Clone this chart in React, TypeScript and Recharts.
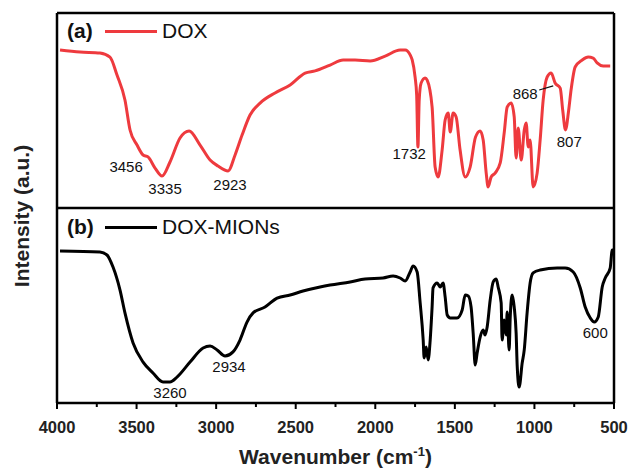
import React from 'react';
import { LineChart, Line, XAxis, YAxis, ReferenceLine, ReferenceDot } from 'recharts';

// DOX spectrum (panel a), intensity in panel units 0-100
const doxWavenumber = [
  3981, 3855, 3730, 3667, 3623, 3573, 3541, 3497, 3459, 3428, 3384, 3340, 3290, 3227, 3170, 3101,
  3038, 2988, 2925, 2881, 2837, 2787, 2724, 2630, 2535, 2441, 2378, 2284, 2202, 2127, 2032, 1938,
  1844, 1812, 1781, 1768, 1750, 1740, 1732, 1724, 1712, 1687, 1674, 1643, 1624, 1605, 1580, 1561,
  1542, 1529, 1511, 1492, 1467, 1435, 1404, 1370, 1341, 1322, 1303, 1291, 1272, 1247, 1215, 1190,
  1171, 1146, 1127, 1115, 1102, 1083, 1064, 1052, 1039, 1027, 1008, 983, 964, 945, 920, 895,
  870, 838, 822, 805, 785, 769, 744, 700, 662, 631, 606, 568, 524,
];
const doxIntensity = [
  81.0, 80.0, 79.5, 77.4, 68.2, 55.4, 40.0, 32.3, 27.2, 26.2, 20.5, 16.4, 23.6, 35.9, 39.5, 32.3,
  24.6, 21.5, 19.0, 27.2, 37.4, 47.7, 53.8, 59.0, 63.1, 69.2, 70.3, 73.3, 75.9, 75.9, 75.4, 77.9,
  81.0, 81.0, 78.5, 75.9, 67.2, 57.9, 31.3, 55.4, 64.1, 66.7, 65.6, 51.8, 21.0, 15.9, 29.7, 45.1,
  48.7, 39.0, 48.7, 46.7, 29.7, 15.9, 21.0, 36.4, 39.5, 34.9, 17.9, 10.8, 15.9, 17.9, 23.1, 38.5,
  51.8, 53.8, 46.7, 25.6, 41.0, 24.6, 40.0, 43.6, 31.3, 34.9, 10.8, 17.9, 34.9, 55.4, 67.2, 69.2,
  64.1, 61.5, 50.0, 40.0, 50.0, 61.0, 72.3, 75.9, 77.4, 76.9, 74.4, 72.8, 72.8,
];

// DOX-MIONs spectrum (panel b)
const mionsWavenumber = [
  3981, 3730, 3686, 3648, 3604, 3573, 3522, 3459, 3397, 3334, 3290, 3246, 3164, 3082, 3038, 2994,
  2944, 2894, 2850, 2806, 2768, 2693, 2617, 2535, 2454, 2347, 2284, 2158, 2064, 1951, 1888, 1844,
  1812, 1781, 1762, 1737, 1718, 1699, 1693, 1680, 1668, 1655, 1643, 1637, 1611, 1592, 1574, 1561,
  1548, 1529, 1486, 1454, 1435, 1416, 1398, 1385, 1372, 1360, 1341, 1322, 1310, 1297, 1278, 1259,
  1240, 1228, 1209, 1203, 1190, 1178, 1171, 1159, 1152, 1140, 1127, 1115, 1108, 1096, 1077, 1064,
  1046, 1027, 1008, 964, 857, 807, 756, 712, 681, 649, 624, 599, 574, 555, 524, 511, 505,
];
const mionsIntensity = [
  77.9, 77.4, 75.9, 69.7, 57.9, 46.2, 30.8, 21.0, 15.4, 10.8, 10.8, 13.3, 21.0, 28.2, 29.2, 27.2,
  24.1, 26.2, 32.3, 41.5, 46.2, 49.2, 53.8, 55.4, 57.4, 59.5, 60.5, 62.1, 63.6, 64.1, 65.1, 64.1,
  62.6, 67.2, 70.3, 67.2, 51.3, 32.3, 23.1, 28.7, 22.1, 32.3, 49.2, 59.0, 61.5, 59.5, 61.5, 54.4,
  45.1, 43.6, 43.6, 47.7, 55.4, 54.9, 49.2, 35.9, 19.5, 25.6, 33.8, 37.4, 34.9, 39.0, 52.8, 62.1,
  63.6, 59.5, 51.3, 32.3, 42.6, 34.9, 46.7, 27.2, 44.1, 55.4, 49.2, 35.9, 18.5, 8.2, 20.5, 27.2,
  46.2, 61.5, 66.7, 68.2, 69.2, 69.2, 67.2, 59.0, 49.2, 43.6, 41.5, 44.1, 59.5, 64.1, 69.2, 78.5, 78.5,
];

const xTicks = [4000, 3750, 3500, 3250, 3000, 2750, 2500, 2250, 2000, 1750, 1500, 1250, 1000, 750, 500];

// peak labels: text, wavenumber, intensity (panel units)
const doxPeaks = [
  { text: '3456', x: 3566, y: 21 },
  { text: '3335', x: 3321, y: 10 },
  { text: '2923', x: 2913, y: 12 },
  { text: '1732', x: 1787, y: 27.7 },
  { text: '868', x: 1058, y: 58.5 },
  { text: '807', x: 781, y: 33.8 },
];
const mionsPeaks = [
  { text: '3260', x: 3290, y: 5.1 },
  { text: '2934', x: 2919, y: 18.5 },
  { text: '600', x: 618, y: 35.9 },
];

const PANEL = 100;
const doxData = doxWavenumber.map((w, i) => ({ w, v: doxIntensity[i] + PANEL }));
const mionsData = mionsWavenumber.map((w, i) => ({ w, v: mionsIntensity[i] }));

const FONT = '"Liberation Sans", Arial, sans-serif';
const RED = '#ee3a3e';

const XTick = (props: any) => {
  const { x, y, payload } = props;
  const major = payload.value % 500 === 0;
  return (
    <g>
      <line x1={x} x2={x} y1={y} y2={y + (major ? 6 : 4)} stroke="#000" strokeWidth={2} />
      {major && (
        <text x={x} y={y + 30} textAnchor="middle" fontSize={16.5} fontWeight="bold" fill="#222" fontFamily={FONT}>
          {payload.value}
        </text>
      )}
    </g>
  );
};

const legendRow = (tag: string, name: string, color: string, top: number) => (
  <div style={{ position: 'absolute', left: 67, top, display: 'flex', alignItems: 'center', fontFamily: FONT, fontSize: 21, color: '#111', lineHeight: '24px' }}>
    <span style={{ fontWeight: 'bold', width: 38 }}>{tag}</span>
    <span style={{ display: 'inline-block', width: 52, height: 3, background: color, marginRight: 5 }} />
    <span>{name}</span>
  </div>
);

export default function App() {
  return (
    <div style={{ position: 'absolute', left: 0, top: 0, width: 629, height: 473, background: '#fff' }}>
      <LineChart width={629} height={473} margin={{ top: 13, right: 15, left: 57, bottom: 0 }}>
        <XAxis
          type="number"
          dataKey="w"
          domain={[500, 4000]}
          reversed
          ticks={xTicks}
          interval={0}
          height={70}
          tickSize={0}
          tickMargin={0}
          tickLine={false}
          axisLine={{ stroke: '#000', strokeWidth: 2.5 }}
          tick={<XTick />}
          allowDataOverflow
        />
        <YAxis type="number" domain={[0, 200]} hide allowDataOverflow />
        <ReferenceLine x={4000} stroke="#000" strokeWidth={2.5} />
        <ReferenceLine x={500} stroke="#000" strokeWidth={2.5} />
        <ReferenceLine y={200} stroke="#000" strokeWidth={2.5} />
        <ReferenceLine y={100} stroke="#000" strokeWidth={2.5} />
        <Line data={doxData} dataKey="v" type="monotone" stroke={RED} strokeWidth={3} dot={false} isAnimationActive={false} />
        <Line data={mionsData} dataKey="v" type="monotone" stroke="#000" strokeWidth={3} dot={false} isAnimationActive={false} />
        {doxPeaks.map((p) => (
          <ReferenceDot key={p.text} x={p.x} y={p.y + PANEL} r={0} stroke="none"
            label={{ value: p.text, position: 'center', fontSize: 15, fill: '#111', fontFamily: FONT }} />
        ))}
        {mionsPeaks.map((p) => (
          <ReferenceDot key={p.text} x={p.x} y={p.y} r={0} stroke="none"
            label={{ value: p.text, position: 'center', fontSize: 15, fill: '#111', fontFamily: FONT }} />
        ))}
        <ReferenceLine segment={[{ x: 970, y: 160.5 }, { x: 882, y: 162.6 }]} stroke="#111" strokeWidth={1.2} />
      </LineChart>
      {legendRow('(a)', 'DOX', RED, 19)}
      {legendRow('(b)', 'DOX-MIONs', '#000', 215)}
      <div style={{ position: 'absolute', left: 0, width: 629, top: 444, textAlign: 'center', paddingLeft: 42, boxSizing: 'border-box', fontFamily: FONT, fontWeight: 'bold', fontSize: 21, color: '#222' }}>
        Wavenumber (cm<sup style={{ fontSize: 13 }}>-1</sup>)
      </div>
      <div style={{ position: 'absolute', left: 22, top: 216, transform: 'translate(-50%, -50%) rotate(-90deg)', whiteSpace: 'nowrap', fontFamily: FONT, fontWeight: 'bold', fontSize: 21, color: '#222' }}>
        Intensity (a.u.)
      </div>
    </div>
  );
}
